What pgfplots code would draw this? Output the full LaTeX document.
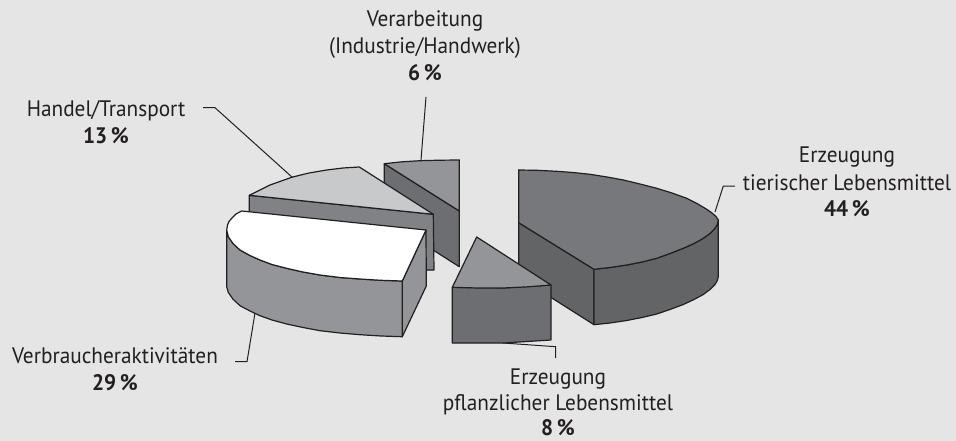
\documentclass[border=0pt]{standalone}
\usepackage{pgfplots}
\pgfplotsset{compat=1.18}
\usepackage{fontspec}
\setmainfont[FakeStretch=0.95]{PT Sans}
\definecolor{bg}{HTML}{E5E5E5}
\definecolor{edge}{HTML}{231F20}
\definecolor{bigtop}{HTML}{77787B}
\definecolor{bigside}{HTML}{636466}
\definecolor{midtop}{HTML}{939598}
\definecolor{midside}{HTML}{6D6E71}
\definecolor{lighttop}{HTML}{C8C9CB}
\definecolor{lightside}{HTML}{808285}
\tikzset{lbl/.style={font=\fontsize{22.4}{26}\selectfont, text=edge, inner sep=0pt, anchor=base}}
\begin{document}
\begin{tikzpicture}
\begin{axis}[
  scale only axis, width=956pt, height=441pt,
  xmin=0, xmax=956, ymin=0, ymax=441, y dir=reverse,
  hide axis, clip=true,
  every axis plot/.append style={draw=edge, line width=1.2pt, line join=round},
]
% background
\addplot[draw=none, fill=bg] coordinates {(0,0)(956,0)(956,441)(0,441)} -- cycle;
% leader lines
\addplot[line width=1pt] coordinates {(426,97)(421,160)};
\addplot[line width=1pt] coordinates {(203,107.7)(215,107.7)(293,178)};
\addplot[line width=1pt] coordinates {(715,212)(723.3,186)(735,186)};
\addplot[line width=1pt] coordinates {(503,343)(555.7,346.7)(555.7,358)};
\addplot[line width=1pt] coordinates {(255,313)(247,361.7)(235,361.7)};
% Verarbeitung
\addplot[fill=midside] coordinates {(384.3,163.7)(459.3,211)(459.3,266.7)(384.3,219)} -- cycle;
\addplot[fill=midtop] coordinates {(384.3,163.7)(402,161.8)(420,160.7)(440,160.2)(459.3,160)(459.3,211)} -- cycle;
% Handel
\addplot[fill=lightside] coordinates {(249.3,195.3)(433.3,214.3)(434,270)(426.7,270)(249.3,251)} -- cycle;
\addplot[fill=lighttop] coordinates {(249.3,195.3)(270,185)(291.7,177.3)(309,173)(326.7,170)(343,168)(359.3,167)(433.3,214.3)} -- cycle;
% big slice
\addplot[fill=bigside] coordinates {(518.7,170)(518.7,222.7)(594,269.3)(594,324.7)(518.7,277)} -- cycle;
\addplot[fill=bigside] coordinates {(718.3,220)(717.3,224.5)(715,228.3)(710,233.5)(703.3,238.3)(694,243.5)(683.3,248.3)(670,253.5)(656.7,258.3)(642,262)(626.7,265)(610,267.5)(594,269.3)(594,324.7)(610,323)(626.7,320.5)(642,317.5)(656.7,314)(670,309.5)(683.3,304.5)(694,299.5)(703.3,294.5)(710,289.5)(715,284.5)(717.3,280.5)(718.3,276.7)} -- cycle;
\addplot[fill=bigtop] coordinates {(518.7,170)(537,170.3)(556.7,171.3)(573,172.5)(590,174.3)(607,177)(623.3,180)(640,184)(656.7,188.3)(672,193)(686.7,198.3)(697,203.5)(706.7,209.3)(712,213)(716,216.5)(718.3,220)(717.3,224.5)(715,228.3)(710,233.5)(703.3,238.3)(694,243.5)(683.3,248.3)(670,253.5)(656.7,258.3)(642,262)(626.7,265)(610,267.5)(594,269.3)(518.7,222.7)} -- cycle;
% small slice
\addplot[fill=midside] coordinates {(452.3,287.3)(503.3,288)(551,285)(551,340)(503.3,343)(452.3,343)} -- cycle;
\addplot[fill=midtop] coordinates {(476.7,237)(551,285)(528,286.8)(503.3,288)(478,288)(452.3,287.3)} -- cycle;
% Verbraucher
\addplot[fill=midtop] coordinates {(426,230)(402.3,281)(402.3,336.7)(426.3,286)} -- cycle;
\addplot[fill=midtop] coordinates {(226.7,230)(228.3,236.7)(233,243.5)(240,250)(250,255.5)(260,260)(272,264.5)(286.7,268.3)(303,272)(320,275)(340,277.5)(360,279)(381,280.3)(402.3,281)(402.3,336.7)(381,336)(360,334.7)(340,333)(320,330.7)(303,327.5)(286.7,324)(272,320)(260,315.7)(250,311)(240,305.7)(233,299.2)(228.3,292.4)(226.7,286.7)} -- cycle;
\addplot[fill=white] coordinates {(241.7,211)(426,230)(402.3,281)(381,280.3)(360,279)(340,277.5)(320,275)(303,272)(286.7,268.3)(272,264.5)(260,260)(250,255.5)(240,250)(233,243.5)(228.3,236.7)(226.7,230)(227.5,225)(229,221.5)(231.7,218.3)(236,214)} -- cycle;
% labels
\node[lbl] at (axis cs:425,27) {Verarbeitung};
\node[lbl] at (axis cs:425,54) {(Industrie/Handwerk)};
\node[lbl] at (axis cs:425,81) {\textbf{6\,\%}};
\node[lbl] at (axis cs:106,116.7) {Handel/Transport};
\node[lbl] at (axis cs:106,143) {\textbf{13\,\%}};
\node[lbl] at (axis cs:847,163) {Erzeugung};
\node[lbl] at (axis cs:847,190) {tierischer Lebensmittel};
\node[lbl] at (axis cs:847,216.7) {\textbf{44\,\%}};
\node[lbl] at (axis cs:115,363) {Verbraucheraktivitäten};
\node[lbl] at (axis cs:115,390.7) {\textbf{29\,\%}};
\node[lbl] at (axis cs:558,384) {Erzeugung};
\node[lbl] at (axis cs:558,410) {pflanzlicher Lebensmittel};
\node[lbl] at (axis cs:558,435) {\textbf{8\,\%}};
\end{axis}
\end{tikzpicture}
\end{document}
